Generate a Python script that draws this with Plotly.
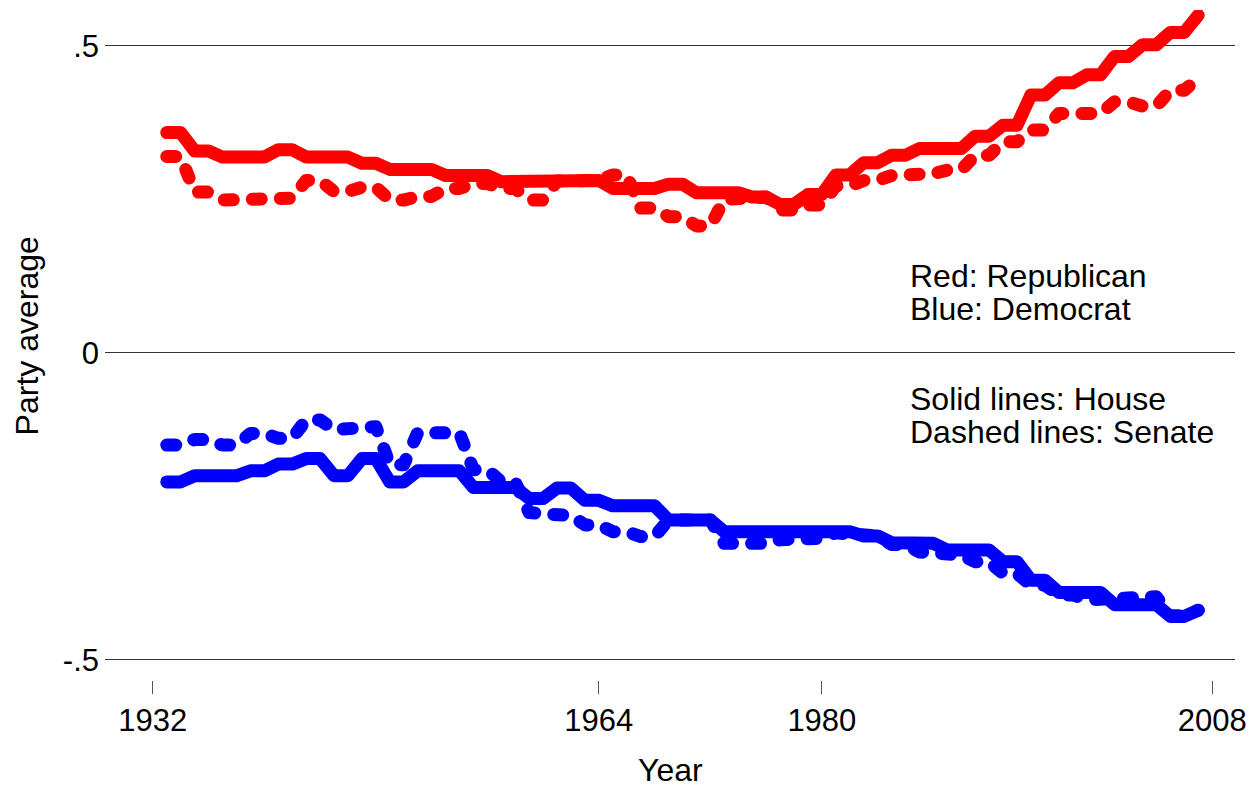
import plotly.graph_objects as go

# Congress start years (each Congress value spans its two calendar years)
congress_start = list(range(1933, 2008, 2))

rep_house = [0.359, 0.329, 0.319, 0.319, 0.331, 0.319, 0.319, 0.309, 0.299, 0.299,
             0.289, 0.289, 0.279, 0.280, 0.281, 0.281, 0.268, 0.268, 0.275, 0.261,
             0.261, 0.254, 0.242, 0.258, 0.290, 0.310, 0.322, 0.333, 0.333, 0.353,
             0.371, 0.420, 0.440, 0.453, 0.483, 0.502, 0.522, 0.550]
rep_senate = [0.320, 0.262, 0.249, 0.249, 0.252, 0.281, 0.263, 0.270, 0.249, 0.255,
              0.268, 0.276, 0.268, 0.249, 0.280, 0.281, 0.290, 0.236, 0.222, 0.207,
              0.250, 0.254, 0.233, 0.241, 0.272, 0.281, 0.289, 0.292, 0.298, 0.322,
              0.344, 0.363, 0.390, 0.390, 0.409, 0.402, 0.428, 0.447]
dem_house = [-0.210, -0.200, -0.200, -0.192, -0.181, -0.172, -0.200, -0.172, -0.210, -0.192,
             -0.192, -0.219, -0.219, -0.237, -0.220, -0.240, -0.249, -0.249, -0.272, -0.272,
             -0.291, -0.291, -0.291, -0.291, -0.291, -0.298, -0.309, -0.310, -0.321, -0.321,
             -0.340, -0.370, -0.390, -0.390, -0.410, -0.410, -0.429, -0.419]
dem_senate = [-0.150, -0.141, -0.150, -0.131, -0.139, -0.109, -0.125, -0.120, -0.182, -0.130,
              -0.130, -0.190, -0.210, -0.260, -0.265, -0.280, -0.291, -0.299, -0.272, -0.272,
              -0.310, -0.310, -0.304, -0.302, -0.293, -0.298, -0.312, -0.324, -0.329, -0.340,
              -0.359, -0.378, -0.394, -0.402, -0.397, -0.397, -0.428, -0.419]

x_ticks = [1932, 1964, 1980, 2008]
y_ticks = [-0.5, 0, 0.5]
y_ticktext = ["-.5", "0", ".5"]

legend_lines = ["Red: Republican", "Blue: Democrat", "Solid lines: House", "Dashed lines: Senate"]
legend_y = [0.1254, 0.0717, -0.0749, -0.1287]


def expand(values):
    xs, ys = [], []
    last = congress_start[-1]
    for s, v in zip(congress_start, values):
        xs.append(s)
        ys.append(v)
        if s != last:
            xs.append(s + 1)
            ys.append(v)
    return xs, ys


FONT = "Liberation Sans, Arial, Helvetica, sans-serif"
LW = 13
DASH = "9px,19px"

fig = go.Figure()
for vals, color, dash in [(rep_senate, "#ff0000", DASH), (rep_house, "#ff0000", "solid"),
                          (dem_senate, "#0000ff", DASH), (dem_house, "#0000ff", "solid")]:
    xs, ys = expand(vals)
    fig.add_trace(go.Scatter(x=xs, y=ys, mode="lines",
                             line=dict(color=color, width=LW, dash=dash),
                             hoverinfo="skip", showlegend=False))

annotations = []
for txt, yy in zip(legend_lines, legend_y):
    annotations.append(dict(x=1986.2, y=yy, xref="x", yref="y", text=txt, showarrow=False,
                            xanchor="left", yanchor="middle",
                            font=dict(family=FONT, size=32, color="black")))
annotations.append(dict(x=-0.0687, y=0.5134, xref="paper", yref="paper", text="Party average",
                        textangle=-90, showarrow=False, xanchor="center", yanchor="middle",
                        font=dict(family=FONT, size=32, color="black")))
annotations.append(dict(x=0.5, y=-0.134, xref="paper", yref="paper", text="Year",
                        showarrow=False, xanchor="center", yanchor="middle",
                        font=dict(family=FONT, size=32, color="black")))

fig.update_layout(
    width=1257, height=788,
    margin=dict(l=105, r=17, t=10, b=108),
    paper_bgcolor="white", plot_bgcolor="white",
    font=dict(family=FONT, size=31, color="black"),
    annotations=annotations,
    xaxis=dict(range=[1928.57, 2009.64], tickvals=x_ticks, ticks="outside", ticklen=13,
               tickwidth=1, tickcolor="#555555", showgrid=False, zeroline=False,
               showline=False, tickfont=dict(size=31), ticklabelstandoff=0),
    yaxis=dict(range=[-0.5326, 0.5586], tickvals=y_ticks, ticktext=y_ticktext, ticks="",
               showgrid=True, gridcolor="#333333", gridwidth=1, zeroline=False,
               showline=False, tickfont=dict(size=31), ticklabelstandoff=5),
)

post = """
var st = document.createElement('style');
st.innerHTML = 'body{margin:0;} .js-line{stroke-linecap:round !important; stroke-linejoin:round !important;}';
document.head.appendChild(st);
"""
fig.write_html("out.html", post_script=post, config={"displayModeBar": False})
